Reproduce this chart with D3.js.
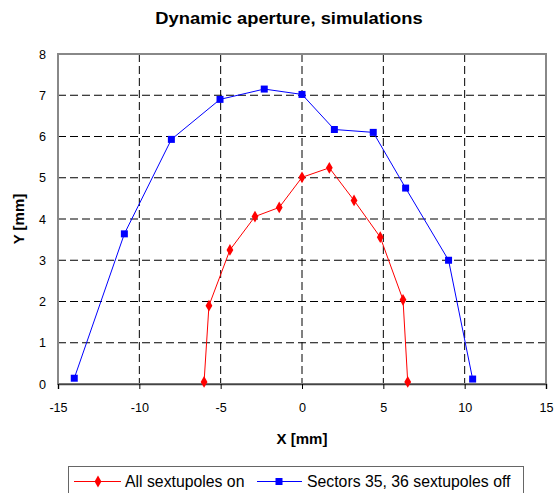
<!DOCTYPE html>
<html><head><meta charset="utf-8">
<script src="https://cdn.jsdelivr.net/npm/d3@7"></script>
<style>body{margin:0;background:#fff}svg{display:block;font-family:"Liberation Sans",Arial,sans-serif}</style>
</head><body><svg id="c" width="556" height="493"></svg>
<script>
const title = "Dynamic aperture, simulations";
const xLabel = "X [mm]";
const yLabel = "Y [mm]";
const seriesNames = ["All sextupoles on", "Sectors 35, 36 sextupoles off"];
const redX = [-6.02, -5.72, -4.43, -2.89, -1.40, 0.0, 1.68, 3.2, 4.81, 6.21, 6.5];
const redY = [0.05, 1.9, 3.25, 4.06, 4.28, 5.01, 5.24, 4.45, 3.56, 2.04, 0.05];
const blueX = [-14.0, -10.92, -8.03, -5.04, -2.32, 0.0, 1.99, 4.38, 6.37, 9.01, 10.49];
const blueY = [0.14, 3.64, 5.93, 6.9, 7.15, 7.02, 6.17, 6.1, 4.75, 3.0, 0.12];
const xTicks = [-15, -10, -5, 0, 5, 10, 15];
const yTicks = [0, 1, 2, 3, 4, 5, 6, 7, 8];

const svg = d3.select("#c");
const L = 58, R = 546, T = 54, B = 384;
const x = d3.scaleLinear().domain([-15, 15]).range([L, R]);
const y = d3.scaleLinear().domain([0, 8]).range([B, T]);

// grid
const g = svg.append("g");
g.selectAll(".vg").data(xTicks.slice(1, -1)).enter().append("line")
  .attr("x1", d => x(d)).attr("x2", d => x(d)).attr("y1", T).attr("y2", B)
  .attr("stroke", "#000").attr("stroke-width", 1).attr("stroke-dasharray", "8,4");
g.selectAll(".hg").data(yTicks.slice(1, -1)).enter().append("line")
  .attr("y1", d => y(d)).attr("y2", d => y(d)).attr("x1", L).attr("x2", R)
  .attr("stroke", "#000").attr("stroke-width", 1).attr("stroke-dasharray", "8,4");

// frame
svg.append("rect").attr("x", L).attr("y", T).attr("width", R - L).attr("height", B - T)
  .attr("fill", "none").attr("stroke", "#888").attr("stroke-width", 2);

// axes
const fmt = d => String(d);
const xAxis = d3.axisBottom(x).tickValues(xTicks).tickSize(5).tickPadding(14).tickFormat(fmt);
const xa = svg.append("g").attr("transform", `translate(0,${B})`).call(xAxis);
xa.select(".domain").attr("stroke", "#444").attr("stroke-width", 1.5);
xa.selectAll("text").attr("font-size", 12.6).attr("fill", "#000").attr("font-family", "Liberation Sans, Arial");
const yAxis = d3.axisLeft(y).tickValues(yTicks).tickSize(0).tickPadding(12).tickFormat(fmt);
const ya = svg.append("g").attr("transform", `translate(${L},0)`).call(yAxis);
ya.select(".domain").remove();
ya.selectAll("text").attr("font-size", 12.6).attr("fill", "#000").attr("font-family", "Liberation Sans, Arial");

// lines
const redData = redX.map((d, i) => [d, redY[i]]);
const blueData = blueX.map((d, i) => [d, blueY[i]]);
const line = d3.line().x(d => x(d[0])).y(d => y(d[1]));
svg.append("path").attr("d", line(blueData)).attr("fill", "none").attr("stroke", "#0000ff").attr("stroke-width", 1);
svg.append("path").attr("d", line(redData)).attr("fill", "none").attr("stroke", "#ff0000").attr("stroke-width", 1);
const sq = d3.symbol().type(d3.symbolSquare).size(49);
const di = d3.symbol().type(d3.symbolDiamond).size(40);
svg.selectAll(".bm").data(blueData).enter().append("path")
  .attr("d", sq).attr("transform", d => `translate(${x(d[0])},${y(d[1])})`).attr("fill", "#0000ff");
svg.selectAll(".rm").data(redData).enter().append("path")
  .attr("d", di).attr("transform", d => `translate(${x(d[0])},${y(d[1])})`).attr("fill", "#ff0000");

// titles
svg.append("text").attr("transform", "translate(289,23.5) scale(1.17,1)").attr("text-anchor", "middle")
  .attr("font-size", 15.7).attr("font-weight", "bold").text(title);
svg.append("text").attr("x", 302).attr("y", 444).attr("text-anchor", "middle")
  .attr("font-size", 15).attr("font-weight", "bold").text(xLabel);
svg.append("text").attr("transform", "translate(23.5,219) rotate(-90)").attr("text-anchor", "middle")
  .attr("font-size", 15).attr("font-weight", "bold").text(yLabel);

// legend
svg.append("rect").attr("x", 68.5).attr("y", 466.5).attr("width", 455).attr("height", 40)
  .attr("fill", "#fff").attr("stroke", "#666").attr("stroke-width", 1);
const ly = 481.5;
svg.append("line").attr("x1", 74).attr("x2", 121).attr("y1", ly).attr("y2", ly).attr("stroke", "#ff0000");
svg.append("path").attr("d", di).attr("transform", `translate(98,${ly})`).attr("fill", "#ff0000");
svg.append("text").attr("x", 125).attr("y", 486.5).attr("font-size", 15.8).text(seriesNames[0]);
svg.append("line").attr("x1", 257).attr("x2", 302).attr("y1", ly).attr("y2", ly).attr("stroke", "#0000ff");
svg.append("path").attr("d", sq).attr("transform", `translate(279,${ly})`).attr("fill", "#0000ff");
svg.append("text").attr("x", 307).attr("y", 486.5).attr("font-size", 15.8).text(seriesNames[1]);
</script></body></html>
